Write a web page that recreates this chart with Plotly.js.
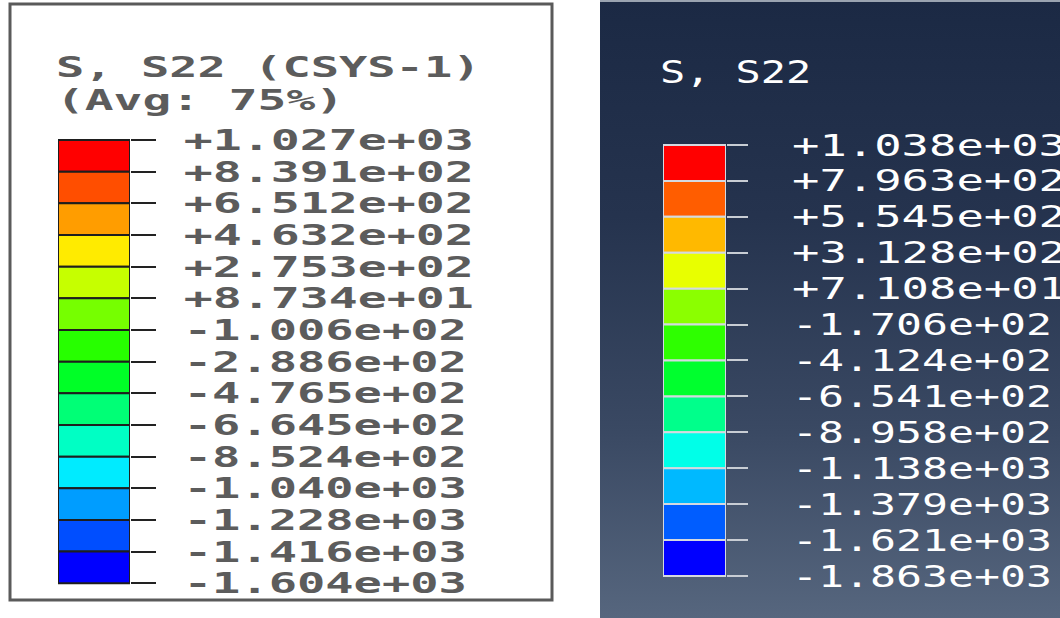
<!DOCTYPE html>
<html>
<head>
<meta charset="utf-8">
<script src="https://cdn.plot.ly/plotly-3.0.1.min.js"></script>
<style>
  html, body { margin: 0; padding: 0; background: #ffffff; overflow: hidden; }
  #chart {
    width: 1060px; height: 618px;
    background:
      linear-gradient(to bottom, #1b2944 0%, #25334e 35%, #3a4963 70%, #56667e 100%) right top / 460px 618px no-repeat,
      #ffffff;
  }
</style>
</head>
<body>
<div id="chart"></div>
<script>
// ---------- data ----------
const leftTitle1 = "S, S22 (CSYS-1)";
const leftTitle2 = "(Avg: 75%)";
const leftLabels = ["+1.027e+03","+8.391e+02","+6.512e+02","+4.632e+02","+2.753e+02","+8.734e+01",
  "-1.006e+02","-2.886e+02","-4.765e+02","-6.645e+02","-8.524e+02","-1.040e+03","-1.228e+03","-1.416e+03","-1.604e+03"];
const leftValues = [1027, 839.1, 651.2, 463.2, 275.3, 87.34, -100.6, -288.6, -476.5, -664.5, -852.4, -1040, -1228, -1416, -1604];
const leftColors = ["#ff0000","#ff4e00","#ff9d00","#ffeb00","#c6ff00","#76ff00","#27ff00",
  "#00ff27","#00ff76","#00ffc4","#00ebff","#009dff","#004eff","#0000ff"];

const rightTitle = "S, S22";
const rightLabels = ["+1.038e+03","+7.963e+02","+5.545e+02","+3.128e+02","+7.108e+01","-1.706e+02",
  "-4.124e+02","-6.541e+02","-8.958e+02","-1.138e+03","-1.379e+03","-1.621e+03","-1.863e+03"];
const rightValues = [1038, 796.3, 554.5, 312.8, 71.08, -170.6, -412.4, -654.1, -895.8, -1138, -1379, -1621, -1863];
const rightColors = ["#ff0000","#ff5d00","#ffb900","#e8ff00","#8bff00","#2eff00",
  "#00ff2e","#00ff8b","#00ffe8","#00b9ff","#005dff","#0000ff"];

// ---------- layout helpers (pixels -> paper) ----------
const W = 1060, H = 618;
const px = v => v / W;
const py = v => 1 - v / H;

function bandTrace(values, colors, xa, ya, lineColor) {
  const n = colors.length;
  return {
    type: "bar",
    x: new Array(n).fill(0),
    base: values.slice(1),
    y: values.slice(0, n).map((v, i) => v - values[i + 1]),
    width: 1,
    marker: { color: colors, line: { color: lineColor, width: 2 } },
    xaxis: xa, yaxis: ya,
    hoverinfo: "skip", showlegend: false
  };
}

// axis geometry with 2px padding so the bar outline isn't clipped
function yGeom(values, topPx, botPx) {
  const hi = values[0], lo = values[values.length - 1];
  const u = (hi - lo) / (botPx - topPx);
  const pad = 2;
  return {
    range: [lo - pad * u, hi + pad * u],
    domain: [py(botPx + pad), py(topPx - pad)]
  };
}
const gL = yGeom(leftValues, 140, 583.3);
const gR = yGeom(rightValues, 145, 576);

const traces = [
  bandTrace(leftValues, leftColors, "x", "y", "#1e1e1e"),
  bandTrace(rightValues, rightColors, "x2", "y2", "#d4d9e0")
];

const layout = {
  width: W, height: H,
  margin: { l: 0, r: 0, t: 0, b: 0, pad: 0 },
  paper_bgcolor: "rgba(0,0,0,0)",
  plot_bgcolor: "rgba(0,0,0,0)",
  bargap: 0,
  xaxis: { domain: [px(58), px(130)], range: [-0.5, 0.5], visible: false, fixedrange: true },
  yaxis: {
    anchor: "x", side: "right", domain: gL.domain, range: gL.range,
    showgrid: false, zeroline: false, showline: false, automargin: false,
    ticks: "outside", ticklen: 25, tickwidth: 2, tickcolor: "#222222",
    tickmode: "array", tickvals: leftValues, ticktext: leftLabels,
    ticklabelstandoff: 22,
    tickfont: { family: "DejaVu Sans Mono", size: 29, color: "#5c5c5c", weight: "bold" }
  },
  xaxis2: { domain: [px(663), px(726)], range: [-0.5, 0.5], visible: false, fixedrange: true, anchor: "y2" },
  yaxis2: {
    anchor: "x2", side: "right", domain: gR.domain, range: gR.range,
    showgrid: false, zeroline: false, showline: false, automargin: false,
    ticks: "outside", ticklen: 21, tickwidth: 2, tickcolor: "#c8cdd4",
    tickmode: "array", tickvals: rightValues, ticktext: rightLabels,
    ticklabelstandoff: 38,
    tickfont: { family: "DejaVu Sans Mono", size: 30, color: "#ffffff" }
  },
  shapes: [
    { type: "rect", xref: "paper", yref: "paper", x0: px(10), x1: px(552), y0: py(600), y1: py(4),
      line: { color: "#5a5a5a", width: 3 }, fillcolor: "rgba(0,0,0,0)" },
    { type: "line", xref: "paper", yref: "paper", x0: px(600), x1: 1, y0: py(1), y1: py(1),
      line: { color: "#9aa3b0", width: 2 } }
  ],
  annotations: [
    { text: leftTitle1, xref: "paper", yref: "paper", x: px(54), y: py(67), xanchor: "left", yanchor: "middle",
      align: "left", showarrow: false, font: { family: "DejaVu Sans Mono", size: 29, color: "#5c5c5c", weight: "bold" } },
    { text: leftTitle2, xref: "paper", yref: "paper", x: px(54), y: py(100), xanchor: "left", yanchor: "middle",
      align: "left", showarrow: false, font: { family: "DejaVu Sans Mono", size: 29, color: "#5c5c5c", weight: "bold" } },
    { text: rightTitle, xref: "paper", yref: "paper", x: px(658), y: py(72), xanchor: "left", yanchor: "middle",
      align: "left", showarrow: false, font: { family: "DejaVu Sans Mono", size: 32, color: "#ffffff" } }
  ]
};

// horizontal stretch of the legend text (the reference glyphs are wide; its minus sign is narrow)
function stretch() {
  const set = (sel, perChar, minusSave) => document.querySelectorAll(sel).forEach(t => {
    const s = t.textContent;
    let len = s.length * perChar;
    if (minusSave && s.charAt(0) === "-") len -= minusSave;
    t.setAttribute("textLength", len.toFixed(1));
    t.setAttribute("lengthAdjust", "spacingAndGlyphs");
  });
  set(".ytick text", 29.0, 7);
  set(".y2tick text", 27.4, 14);
  set('.annotation[data-index="0"] .annotation-text', 28.3, 0);
  set('.annotation[data-index="1"] .annotation-text', 28.8, 0);
  set('.annotation[data-index="2"] .annotation-text', 25.2, 0);
}

Plotly.newPlot("chart", traces, layout, { staticPlot: true, displayModeBar: false }).then(stretch);
</script>
</body>
</html>
